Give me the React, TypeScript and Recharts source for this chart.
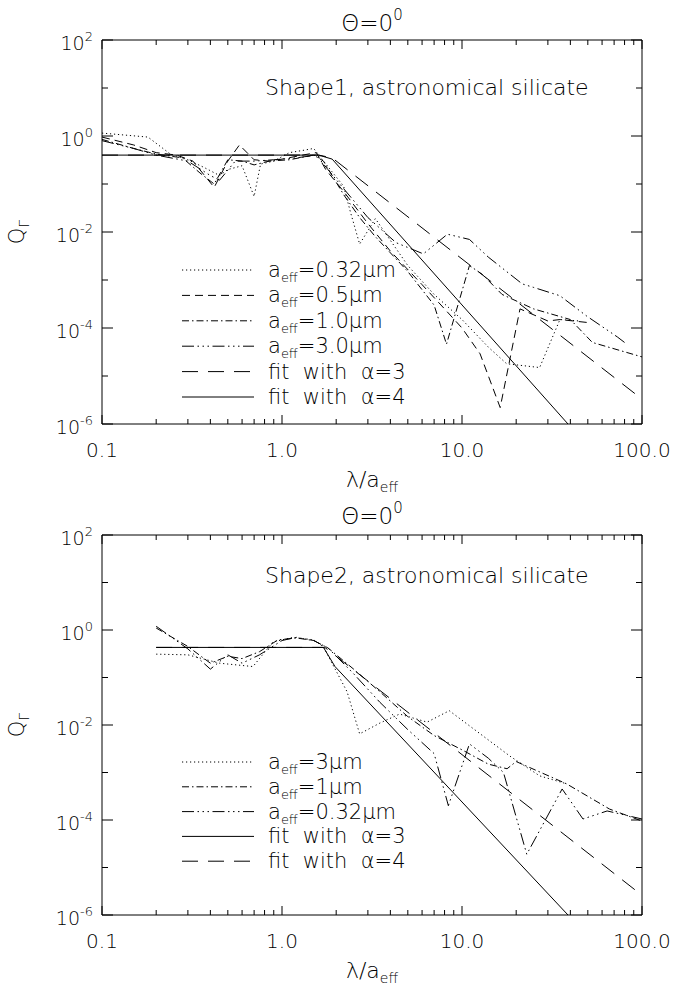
import React from 'react';
import { LineChart, Line, XAxis, YAxis, Legend } from 'recharts';

const FONT = '"DejaVu Sans", "Liberation Sans", sans-serif';
const FW = 200;

// ---------- axis ticks ----------
const xMajor = [0.1, 1, 10, 100];
const xMajorLabels = ['0.1', '1.0', '10.0', '100.0'];
const xMinor = [0.2, 0.3, 0.4, 0.5, 0.6, 0.7, 0.8, 0.9, 2, 3, 4, 5, 6, 7, 8, 9, 20, 30, 40, 50, 60, 70, 80, 90];
const yMajor = [1e-6, 1e-4, 1e-2, 1, 100];
const yMajorExp = ['-6', '-4', '-2', '0', '2'];
const yMinor = [1e-5, 1e-3, 1e-1, 10];

// ---------- top panel data (Shape1) ----------
const top032: [number, number][] = [
  [0.1, 1.15], [0.18, 0.95], [0.24, 0.42], [0.3, 0.32], [0.37, 0.22], [0.45, 0.15], [0.5, 0.2], [0.6, 0.24],
  [0.7, 0.055], [0.76, 0.26], [0.9, 0.3], [1.1, 0.45], [1.3, 0.5], [1.5, 0.55], [1.7, 0.3], [2.2, 0.09],
  [2.4, 0.026], [2.7, 0.0056], [3.3, 0.019], [5, 0.002], [7, 0.0005], [10, 0.00015], [14, 4e-5],
  [17.7, 1.8e-5], [27, 1.5e-5], [35, 1.5e-4], [45, 1.4e-4],
];
const top05: [number, number][] = [
  [0.1, 0.95], [0.15, 0.65], [0.2, 0.45], [0.26, 0.4], [0.32, 0.3], [0.42, 0.085], [0.5, 0.3], [0.58, 0.65],
  [0.7, 0.32], [0.85, 0.3], [1.0, 0.33], [1.3, 0.4], [1.55, 0.45], [1.75, 0.2], [2.2, 0.07], [3, 0.015],
  [4, 0.004], [6, 0.0008], [8, 0.00025], [10, 1e-4], [12.6, 2.9e-5], [16.3, 2.2e-6], [21, 2.5e-4],
  [30, 1.4e-4], [35, 1.5e-4], [50, 1.3e-4],
];
const top10: [number, number][] = [
  [0.1, 0.85], [0.15, 0.55], [0.2, 0.42], [0.28, 0.35], [0.35, 0.17], [0.42, 0.1], [0.5, 0.32], [0.6, 0.3],
  [0.7, 0.25], [0.85, 0.3], [1.1, 0.32], [1.5, 0.4], [1.7, 0.3], [2.2, 0.06], [2.7, 0.02], [3.3, 0.008],
  [5, 0.0015], [7, 0.0003], [8.2, 4.6e-5], [11, 0.002], [13, 0.0013], [16.7, 0.0005], [25, 0.00025],
  [40, 0.00015], [53, 5e-5], [100, 2.5e-5],
];
const top30: [number, number][] = [
  [0.1, 0.8], [0.15, 0.55], [0.2, 0.4], [0.3, 0.3], [0.4, 0.15], [0.45, 0.12], [0.55, 0.3], [0.7, 0.3],
  [0.9, 0.32], [1.2, 0.35], [1.55, 0.4], [1.8, 0.2], [2.2, 0.08], [3, 0.02], [4.3, 0.006], [6.1, 0.0035],
  [8.3, 0.009], [11, 0.007], [14, 0.003], [21.6, 0.00083], [25, 0.0007], [35, 0.00047], [49, 0.00018],
  [73, 6.5e-5], [80, 5e-5],
];
const topFit3: [number, number][] = [[0.1, 0.4], [1.6, 0.4], [1.9, 0.35], [100, 3.3e-6]];
const topFit4: [number, number][] = [[0.1, 0.4], [1.6, 0.4], [1.9, 0.33], [38.8, 1e-6]];

// ---------- bottom panel data (Shape2) ----------
const low3: [number, number][] = [
  [0.2, 0.31], [0.3, 0.3], [0.45, 0.2], [0.69, 0.17], [0.89, 0.56], [1.15, 0.7], [1.5, 0.62], [1.7, 0.44],
  [2.3, 0.05], [2.7, 0.0065], [3.5, 0.011], [4.5, 0.017], [6.4, 0.0115], [8.5, 0.02], [18.5, 0.0022],
  [27, 0.00085], [38, 0.00058],
];
const low1: [number, number][] = [
  [0.2, 1.1], [0.3, 0.45], [0.4, 0.2], [0.5, 0.28], [0.6, 0.25], [0.75, 0.35], [0.95, 0.62], [1.2, 0.68],
  [1.5, 0.6], [1.8, 0.42], [2.5, 0.15], [3.5, 0.05], [5, 0.015], [7, 0.006], [10, 0.003], [14, 0.0015],
  [17.8, 0.0012], [20, 0.0017], [38, 0.00058], [66, 0.00017], [100, 9.5e-5],
];
const low032: [number, number][] = [
  [0.2, 1.2], [0.3, 0.4], [0.4, 0.15], [0.5, 0.3], [0.6, 0.2], [0.75, 0.3], [1.0, 0.6], [1.2, 0.7],
  [1.5, 0.6], [1.8, 0.42], [2.5, 0.12], [3.5, 0.03], [5, 0.008], [7, 0.0025], [8.4, 0.0002], [11, 0.004],
  [14, 0.002], [17, 0.001], [22.9, 1.9e-5], [36, 0.00045], [47, 0.000105], [64, 0.000155], [100, 0.000105],
];
const lowFit3: [number, number][] = [[0.2, 0.43], [1.7, 0.43], [1.97, 0.17], [38.8, 1e-6]];
const lowFit4: [number, number][] = [[0.2, 0.43], [1.73, 0.43], [100, 2.6e-6]];

// ---------- styles ----------
const DOT = '1.2 2.8';
const DASH = '8 5';
const DASHDOT = '7 3 1.5 3';
const DASH3DOT = '12 3.5 1.5 3.5 1.5 3.5 1.5 3.5';
const LONGDASH = '16 10';
const SOLID = '';

type Series = { name: string; data: [number, number][]; dash: string; label: React.ReactNode };

const Aeff = ({ v }: { v: string }) => (
  <>
    a<tspan fontSize={13} dy={5}>eff</tspan>
    <tspan dy={-5}>={v}μm</tspan>
  </>
);
const Fit = ({ v }: { v: string }) => (
  <>
    fit{'\u00a0\u00a0'}with{'\u00a0\u00a0'}α={v}
  </>
);

const topSeries: Series[] = [
  { name: 'a032', data: top032, dash: DOT, label: <Aeff v="0.32" /> },
  { name: 'a05', data: top05, dash: DASH, label: <Aeff v="0.5" /> },
  { name: 'a10', data: top10, dash: DASHDOT, label: <Aeff v="1.0" /> },
  { name: 'a30', data: top30, dash: DASH3DOT, label: <Aeff v="3.0" /> },
  { name: 'f3', data: topFit3, dash: LONGDASH, label: <Fit v="3" /> },
  { name: 'f4', data: topFit4, dash: SOLID, label: <Fit v="4" /> },
];
const lowSeries: Series[] = [
  { name: 'b3', data: low3, dash: DOT, label: <Aeff v="3" /> },
  { name: 'b1', data: low1, dash: DASHDOT, label: <Aeff v="1" /> },
  { name: 'b032', data: low032, dash: DASH3DOT, label: <Aeff v="0.32" /> },
  { name: 'g3', data: lowFit3, dash: SOLID, label: <Fit v="3" /> },
  { name: 'g4', data: lowFit4, dash: LONGDASH, label: <Fit v="4" /> },
];

const toObj = (d: [number, number][]) => d.map(([x, y]) => ({ x, y }));
const near = (a: number, b: number) => Math.abs(a - b) / b < 1e-6;

function BottomTick(props: any) {
  const { x, y, payload } = props;
  const i = xMajor.findIndex((m) => near(payload.value, m));
  const len = i >= 0 ? 9 : 5;
  return (
    <g>
      <line x1={x} y1={y} x2={x} y2={y - len} stroke="#000" strokeWidth={1} />
      {i >= 0 && (
        <text x={x} y={y + 33} textAnchor="middle" fontSize={20} fontFamily={FONT} fontWeight={FW} fill="#000">
          {xMajorLabels[i]}
        </text>
      )}
    </g>
  );
}
function TopTick(props: any) {
  const { x, y, payload } = props;
  const i = xMajor.findIndex((m) => near(payload.value, m));
  const len = i >= 0 ? 9 : 5;
  return <line x1={x} y1={y} x2={x} y2={y + len} stroke="#000" strokeWidth={1} />;
}
function LeftTick(props: any) {
  const { x, y, payload } = props;
  const i = yMajor.findIndex((m) => near(payload.value, m));
  const len = i >= 0 ? 11 : 6;
  return (
    <g>
      <line x1={x} y1={y} x2={x + len} y2={y} stroke="#000" strokeWidth={1} />
      {i >= 0 && (
        <text x={x - 9} y={y + 10} textAnchor="end" fontSize={19} fontFamily={FONT} fontWeight={FW} fill="#000">
          10<tspan fontSize={13} dy={-9}>{yMajorExp[i]}</tspan>
        </text>
      )}
    </g>
  );
}
function RightTick(props: any) {
  const { x, y, payload } = props;
  const i = yMajor.findIndex((m) => near(payload.value, m));
  const len = i >= 0 ? 11 : 6;
  return <line x1={x} y1={y} x2={x - len} y2={y} stroke="#000" strokeWidth={1} />;
}

const xTicksAll = [...xMajor, ...xMinor].sort((a, b) => a - b);
const yTicksAll = [...yMajor, ...yMinor].sort((a, b) => a - b);

function LegendBox({ series, rowGap }: { series: Series[]; rowGap: number }) {
  const h = 20 + rowGap * series.length;
  return (
    <svg width={290} height={h} style={{ overflow: 'visible' }}>
      {series.map((s, i) => {
        const cy = 12 + i * rowGap;
        return (
          <g key={s.name}>
            <line x1={12} x2={84} y1={cy} y2={cy} stroke="#000" strokeWidth={1} strokeDasharray={s.dash || undefined} />
            <text x={98} y={cy + 7} fontSize={21} fontFamily={FONT} fontWeight={FW} fill="#000">
              {s.label}
            </text>
          </g>
        );
      })}
    </svg>
  );
}

function Panel(p: {
  top: number;
  height: number;
  mTop: number;
  mBottom: number;
  series: Series[];
  legendTop: number;
  rowGap: number;
}) {
  const axisCommonX = {
    type: 'number' as const,
    dataKey: 'x',
    scale: 'log' as const,
    domain: [0.1, 100],
    allowDataOverflow: true,
    ticks: xTicksAll,
    interval: 0 as const,
    tickSize: 0,
    tickMargin: 0,
    height: 1,
    axisLine: { stroke: '#000', strokeWidth: 1 },
  };
  const axisCommonY = {
    type: 'number' as const,
    scale: 'log' as const,
    domain: [1e-6, 100],
    allowDataOverflow: true,
    ticks: yTicksAll,
    interval: 0 as const,
    tickSize: 0,
    tickMargin: 0,
    width: 1,
    axisLine: { stroke: '#000', strokeWidth: 1 },
  };
  return (
    <div style={{ position: 'absolute', left: 0, top: p.top, width: 700, height: p.height }}>
      <LineChart width={700} height={p.height} margin={{ top: p.mTop - 1, right: 57, bottom: p.mBottom - 1, left: 101 }}>
        <XAxis xAxisId="b" orientation="bottom" {...axisCommonX} tick={<BottomTick />} />
        <XAxis xAxisId="t" orientation="top" {...axisCommonX} tick={<TopTick />} />
        <YAxis yAxisId="l" orientation="left" {...axisCommonY} tick={<LeftTick />} />
        <YAxis yAxisId="r" orientation="right" {...axisCommonY} tick={<RightTick />} />
        {p.series.map((s) => (
          <Line
            key={s.name}
            xAxisId="b"
            yAxisId="l"
            data={toObj(s.data)}
            dataKey="y"
            type="linear"
            stroke="#000"
            strokeWidth={1}
            strokeDasharray={s.dash || undefined}
            dot={false}
            activeDot={false}
            isAnimationActive={false}
          />
        ))}
        <Legend
          layout="horizontal"
          verticalAlign="middle"
          align="center"
          content={() => <LegendBox series={p.series} rowGap={p.rowGap} />}
          wrapperStyle={{ position: 'absolute', left: 170, top: p.legendTop, width: 290, height: 170 }}
        />
      </LineChart>
    </div>
  );
}

const Title = ({ y }: { y: number }) => (
  <text x={372} y={y} textAnchor="middle" fontSize={23} fontFamily={FONT} fontWeight={FW} fill="#000">
    Θ=0<tspan fontSize={15} dy={-11}>0</tspan>
  </text>
);
const XLabel = ({ y }: { y: number }) => (
  <text x={372} y={y} textAnchor="middle" fontSize={22} fontFamily={FONT} fontWeight={FW} fill="#000">
    λ/a<tspan fontSize={14} dy={5}>eff</tspan>
  </text>
);
const YLabel = ({ cy }: { cy: number }) => (
  <text x={0} y={0} transform={`translate(24, ${cy}) rotate(-90)`} textAnchor="middle" fontSize={21} fontFamily={FONT} fontWeight={FW} fill="#000">
    Q<tspan fontSize={14} dy={5}>Γ</tspan>
  </text>
);

export default function App() {
  return (
    <div style={{ position: 'absolute', left: 0, top: 0, width: 700, height: 985, background: '#fff', overflow: 'hidden' }}>
      <Panel top={0} height={490} mTop={40} mBottom={66} series={topSeries} legendTop={258} rowGap={25.4} />
      <Panel top={490} height={495} mTop={45} mBottom={70} series={lowSeries} legendTop={260} rowGap={24.8} />
      <svg width={700} height={985} style={{ position: 'absolute', left: 0, top: 0, pointerEvents: 'none' }}>
        <Title y={31} />
        <text x={265} y={95} fontSize={22} fontFamily={FONT} fontWeight={FW} fill="#000">
          Shape1, astronomical silicate
        </text>
        <XLabel y={487} />
        <YLabel cy={232} />
        <Title y={524} />
        <text x={265} y={583} fontSize={22} fontFamily={FONT} fontWeight={FW} fill="#000">
          Shape2, astronomical silicate
        </text>
        <XLabel y={978} />
        <YLabel cy={725} />
      </svg>
    </div>
  );
}
